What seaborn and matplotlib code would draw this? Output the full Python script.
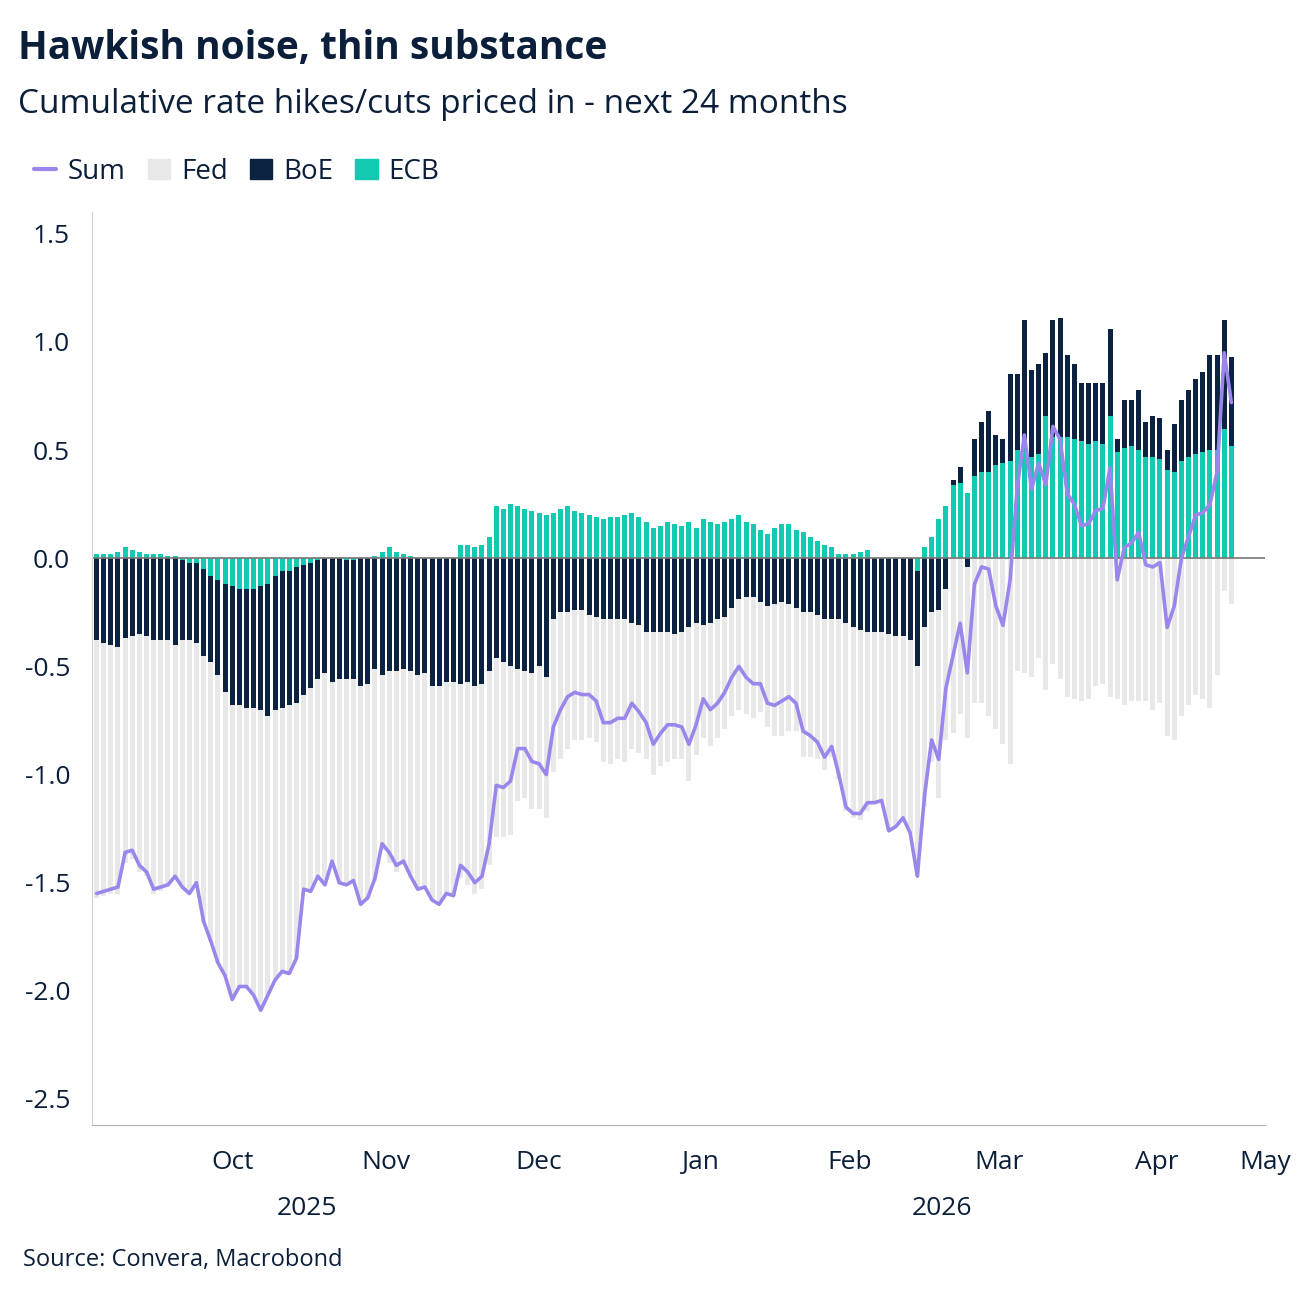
import matplotlib
matplotlib.use("Agg")
import matplotlib.pyplot as plt
import numpy as np
import pandas as pd
import seaborn as sns
from matplotlib.lines import Line2D
from matplotlib.patches import Patch

# Sum of priced hikes/cuts, one value per business day
sum_vals = [
    -1.55, -1.54, -1.53, -1.52, -1.36, -1.35, -1.42, -1.45, -1.53, -1.52,
    -1.51, -1.47, -1.52, -1.55, -1.50, -1.68, -1.77, -1.87, -1.93, -2.04,
    -1.98, -1.98, -2.02, -2.09, -2.02, -1.95, -1.91, -1.92, -1.85, -1.53,
    -1.54, -1.47, -1.51, -1.40, -1.50, -1.51, -1.49, -1.60, -1.57, -1.48,
    -1.32, -1.36, -1.42, -1.40, -1.47, -1.53, -1.52, -1.58, -1.60, -1.55,
    -1.56, -1.42, -1.45, -1.50, -1.47, -1.32, -1.05, -1.06, -1.03, -0.88,
    -0.88, -0.94, -0.95, -1.00, -0.78, -0.70, -0.64, -0.62, -0.63, -0.63,
    -0.66, -0.76, -0.76, -0.74, -0.74, -0.67, -0.71, -0.76, -0.86, -0.81,
    -0.77, -0.77, -0.78, -0.86, -0.77, -0.65, -0.70, -0.67, -0.62, -0.55,
    -0.50, -0.55, -0.58, -0.58, -0.67, -0.68, -0.66, -0.64, -0.67, -0.80,
    -0.82, -0.85, -0.92, -0.87, -1.00, -1.15, -1.18, -1.18, -1.13, -1.13,
    -1.12, -1.26, -1.24, -1.20, -1.27, -1.47, -1.10, -0.84, -0.93, -0.60,
    -0.45, -0.30, -0.53, -0.12, -0.04, -0.05, -0.22, -0.31, -0.10, 0.33,
    0.57, 0.32, 0.44, 0.34, 0.61, 0.55, 0.30, 0.25, 0.15, 0.16,
    0.22, 0.23, 0.42, -0.10, 0.05, 0.07, 0.12, -0.03, -0.04, -0.02,
    -0.32, -0.22, 0.00, 0.10, 0.20, 0.21, 0.25, 0.40, 0.95, 0.72,
]

ecb_vals = [
    0.02, 0.02, 0.02, 0.03, 0.05, 0.04, 0.03, 0.02, 0.02, 0.02,
    0.01, 0.01, -0.01, -0.02, -0.02, -0.05, -0.08, -0.10, -0.12, -0.13,
    -0.14, -0.14, -0.14, -0.13, -0.12, -0.08, -0.06, -0.06, -0.04, -0.03,
    -0.02, -0.01, 0.00, 0.00, 0.00, -0.01, -0.01, 0.00, 0.00, 0.01,
    0.03, 0.05, 0.03, 0.02, 0.01, 0.00, 0.00, 0.00, 0.00, 0.00,
    0.00, 0.06, 0.06, 0.05, 0.06, 0.10, 0.24, 0.23, 0.25, 0.24,
    0.23, 0.22, 0.21, 0.20, 0.21, 0.23, 0.24, 0.22, 0.21, 0.20,
    0.19, 0.18, 0.19, 0.19, 0.20, 0.21, 0.19, 0.17, 0.14, 0.15,
    0.17, 0.16, 0.15, 0.17, 0.14, 0.18, 0.17, 0.16, 0.17, 0.18,
    0.20, 0.17, 0.16, 0.13, 0.11, 0.14, 0.16, 0.16, 0.13, 0.12,
    0.10, 0.08, 0.06, 0.05, 0.02, 0.02, 0.02, 0.03, 0.04, 0.00,
    0.00, 0.00, 0.00, 0.00, 0.00, -0.06, 0.05, 0.10, 0.18, 0.24,
    0.34, 0.35, 0.30, 0.38, 0.40, 0.40, 0.43, 0.44, 0.45, 0.50,
    0.50, 0.47, 0.48, 0.66, 0.56, 0.56, 0.56, 0.55, 0.54, 0.53,
    0.54, 0.53, 0.66, 0.49, 0.51, 0.52, 0.50, 0.47, 0.47, 0.46,
    0.41, 0.40, 0.45, 0.47, 0.48, 0.49, 0.50, 0.50, 0.60, 0.52,
]

boe_vals = [
    -0.38, -0.39, -0.40, -0.41, -0.37, -0.36, -0.35, -0.36, -0.38, -0.38,
    -0.38, -0.40, -0.37, -0.36, -0.37, -0.40, -0.40, -0.44, -0.50, -0.55,
    -0.54, -0.55, -0.55, -0.57, -0.61, -0.62, -0.63, -0.62, -0.63, -0.60,
    -0.58, -0.55, -0.53, -0.57, -0.56, -0.55, -0.55, -0.59, -0.58, -0.51,
    -0.54, -0.52, -0.52, -0.51, -0.52, -0.54, -0.53, -0.59, -0.59, -0.57,
    -0.57, -0.58, -0.57, -0.59, -0.58, -0.52, -0.46, -0.48, -0.50, -0.51,
    -0.52, -0.53, -0.50, -0.55, -0.28, -0.25, -0.25, -0.24, -0.24, -0.26,
    -0.27, -0.28, -0.28, -0.28, -0.28, -0.30, -0.31, -0.34, -0.34, -0.34,
    -0.34, -0.35, -0.34, -0.32, -0.30, -0.31, -0.30, -0.28, -0.27, -0.23,
    -0.19, -0.18, -0.18, -0.20, -0.22, -0.21, -0.20, -0.21, -0.23, -0.25,
    -0.25, -0.26, -0.28, -0.28, -0.28, -0.30, -0.32, -0.33, -0.34, -0.34,
    -0.34, -0.35, -0.36, -0.36, -0.38, -0.44, -0.32, -0.25, -0.24, -0.14,
    0.02, 0.07, -0.04, 0.17, 0.23, 0.28, 0.14, 0.11, 0.40, 0.35,
    0.60, 0.40, 0.42, 0.29, 0.54, 0.55, 0.38, 0.35, 0.27, 0.28,
    0.27, 0.28, 0.40, 0.06, 0.22, 0.21, 0.28, 0.16, 0.19, 0.19,
    0.09, 0.22, 0.28, 0.31, 0.35, 0.37, 0.44, 0.44, 0.50, 0.41,
]

months = ["Oct", "Nov", "Dec", "Jan", "Feb", "Mar", "Apr", "May"]
yticks = [-2.5, -2.0, -1.5, -1.0, -0.5, 0.0, 0.5, 1.0, 1.5]

C_SUM = "#9b87ec"
C_FED = "#e8e8e8"
C_BOE = "#0b2340"
C_ECB = "#12c9b2"
NAVY = "#0b1f3a"

dates = pd.bdate_range(end="2026-04-30", periods=len(sum_vals))
df = pd.DataFrame({"Sum": sum_vals, "ECB": ecb_vals, "BoE": boe_vals}, index=dates)
df["Fed"] = df["Sum"] - df["BoE"] - df["ECB"]
pos = np.arange(len(df))

sns.set_style("white")
plt.rcParams["font.family"] = ["Open Sans", "DejaVu Sans"]

fig = plt.figure(figsize=(13, 13.02), dpi=100)
ax = fig.add_axes([0.071, 0.136, 0.902, 0.701])

# diverging stack: ECB nearest zero, then BoE, then Fed
pos_base = np.zeros(len(df))
neg_base = np.zeros(len(df))
for col, colour in [("ECB", C_ECB), ("BoE", C_BOE), ("Fed", C_FED)]:
    v = df[col].values
    bottom = np.where(v >= 0, pos_base, neg_base)
    ax.bar(pos, v, bottom=bottom, width=0.7, color=colour, linewidth=0)
    pos_base = pos_base + np.clip(v, 0, None)
    neg_base = neg_base + np.clip(v, None, 0)

sns.lineplot(x=pos, y=df["Sum"].values, ax=ax, color=C_SUM, linewidth=2.6)
ax.axhline(0, color="#777777", linewidth=1.2, zorder=1)

ax.set_ylim(-2.62, 1.6)
ax.set_yticks(yticks)
ax.set_yticklabels([f"{t:.1f}" for t in yticks])
ax.set_xlim(-0.6, len(df) + 3.7)

# month boundaries as ticks, month names centred between them
month_start = [np.argmax(df.index >= pd.Timestamp(f"{y}-{m:02d}-01")) - 0.5
               for y, m in [(2025, 10), (2025, 11), (2025, 12), (2026, 1),
                            (2026, 2), (2026, 3), (2026, 4)]]
month_start.append(len(df) - 0.5)
ax.set_xticks(month_start)
ax.set_xticklabels([])
label_pos = [(a + b) / 2 for a, b in zip([month_start[0] - 23] + month_start[:-1], month_start)]
label_pos[-1] = ax.get_xlim()[1]
for lp, name in zip(label_pos[1:] + [label_pos[-1]], months):
    pass
centres = [(month_start[i] + month_start[i + 1]) / 2 for i in range(len(month_start) - 1)]
centres.append(ax.get_xlim()[1])
for c, name in zip(centres, months):
    ax.text(c, -0.028, name, transform=ax.get_xaxis_transform(), ha="center",
            va="top", fontsize=19, color=NAVY)
ax.text(month_start[1] - 1, -0.078, "2025", transform=ax.get_xaxis_transform(),
        ha="center", va="top", fontsize=19, color=NAVY)
ax.text(month_start[5] + 3, -0.078, "2026", transform=ax.get_xaxis_transform(),
        ha="center", va="top", fontsize=19, color=NAVY)

for s in ["top", "right"]:
    ax.spines[s].set_visible(False)
ax.spines["left"].set_color("#d0d0d0")
ax.spines["bottom"].set_color("#b0b0b0")
ax.tick_params(axis="y", length=8, color="#b0b0b0", labelsize=19, labelcolor=NAVY, pad=8)
ax.tick_params(axis="x", length=8, color="#555555", direction="out")

fig.text(0.014, 0.963, "Hawkish noise, thin substance", fontsize=28,
         fontweight="bold", color=NAVY, va="center")
fig.text(0.014, 0.92, "Cumulative rate hikes/cuts priced in - next 24 months",
         fontsize=24, color=NAVY, va="center")
fig.text(0.018, 0.032, "Source: Convera, Macrobond", fontsize=17, color=NAVY, va="center")

handles = [Line2D([0], [0], color=C_SUM, lw=3),
           Patch(color=C_FED), Patch(color=C_BOE), Patch(color=C_ECB)]
leg = fig.legend(handles, ["Sum", "Fed", "BoE", "ECB"], loc="center left",
                 bbox_to_anchor=(0.007, 0.868), ncol=4, frameon=False,
                 fontsize=20, handlelength=0.8, handletextpad=0.4,
                 columnspacing=0.8, labelcolor=NAVY)
leg.legend_handles[0].set_data([-0.8, 0.9], [0.5, 0.5]) if False else None

fig.savefig("out.png", dpi=100)
